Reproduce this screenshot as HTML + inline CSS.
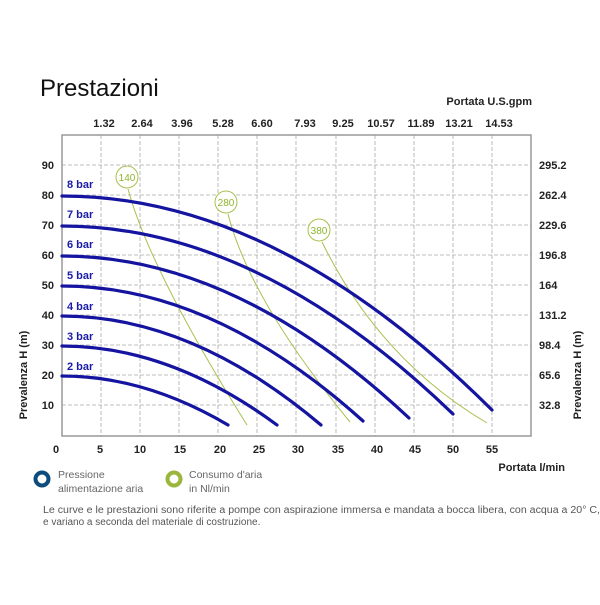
<!DOCTYPE html>
<html><head><meta charset="utf-8"><style>
html,body{margin:0;padding:0;background:#fff;}
svg text{font-family:"Liberation Sans",Arial,sans-serif;}
</style></head><body>
<svg width="600" height="600" viewBox="0 0 600 600" xmlns="http://www.w3.org/2000/svg">
<rect width="600" height="600" fill="#fff"/>
<text x="40" y="96" font-size="24" fill="#111">Prestazioni</text>
<text x="532" y="105" font-size="11" font-weight="bold" fill="#222" text-anchor="end">Portata U.S.gpm</text>
<g stroke="#aaa" stroke-width="0.8" stroke-dasharray="4,2">
<line x1="101" y1="135" x2="101" y2="436"/><line x1="140" y1="135" x2="140" y2="436"/><line x1="179" y1="135" x2="179" y2="436"/><line x1="218" y1="135" x2="218" y2="436"/><line x1="257" y1="135" x2="257" y2="436"/><line x1="296" y1="135" x2="296" y2="436"/><line x1="336" y1="135" x2="336" y2="436"/><line x1="375" y1="135" x2="375" y2="436"/><line x1="414" y1="135" x2="414" y2="436"/><line x1="453" y1="135" x2="453" y2="436"/><line x1="492" y1="135" x2="492" y2="436"/>
<line x1="62" y1="165" x2="531" y2="165"/><line x1="62" y1="195" x2="531" y2="195"/><line x1="62" y1="225" x2="531" y2="225"/><line x1="62" y1="255" x2="531" y2="255"/><line x1="62" y1="285" x2="531" y2="285"/><line x1="62" y1="315" x2="531" y2="315"/><line x1="62" y1="345" x2="531" y2="345"/><line x1="62" y1="375" x2="531" y2="375"/><line x1="62" y1="405" x2="531" y2="405"/>
</g>
<rect x="62" y="135" width="469" height="301" fill="none" stroke="#999" stroke-width="1.5"/>
<g font-size="11" font-weight="bold" fill="#222" text-anchor="middle">
<text x="104" y="127">1.32</text><text x="142" y="127">2.64</text><text x="182" y="127">3.96</text><text x="223" y="127">5.28</text><text x="262" y="127">6.60</text><text x="305" y="127">7.93</text><text x="343" y="127">9.25</text><text x="381" y="127">10.57</text><text x="421" y="127">11.89</text><text x="459" y="127">13.21</text><text x="499" y="127">14.53</text>
<text x="56" y="453">0</text><text x="100" y="453">5</text><text x="140" y="453">10</text><text x="180" y="453">15</text><text x="220" y="453">20</text><text x="259" y="453">25</text><text x="298" y="453">30</text><text x="338" y="453">35</text><text x="377" y="453">40</text><text x="415" y="453">45</text><text x="453" y="453">50</text><text x="492" y="453">55</text>
</g>
<g font-size="11" font-weight="bold" fill="#222" text-anchor="end">
<text x="54" y="169">90</text><text x="54" y="199">80</text><text x="54" y="229">70</text><text x="54" y="259">60</text><text x="54" y="289">50</text><text x="54" y="319">40</text><text x="54" y="349">30</text><text x="54" y="379">20</text><text x="54" y="409">10</text>
</g>
<g font-size="11" font-weight="bold" fill="#222">
<text x="539" y="169">295.2</text><text x="539" y="199">262.4</text><text x="539" y="229">229.6</text><text x="539" y="259">196.8</text><text x="539" y="289">164</text><text x="539" y="319">131.2</text><text x="539" y="349">98.4</text><text x="539" y="379">65.6</text><text x="539" y="409">32.8</text>
</g>
<text transform="translate(27,375) rotate(-90)" font-size="11" font-weight="bold" fill="#222" text-anchor="middle">Prevalenza H (m)</text>
<text transform="translate(581,375) rotate(-90)" font-size="11" font-weight="bold" fill="#222" text-anchor="middle">Prevalenza  H (m)</text>
<text x="565" y="471" font-size="11" font-weight="bold" fill="#222" text-anchor="end">Portata  l/min</text>
<g fill="none" stroke="#a8c050" stroke-width="1">
<path d="M128,189 Q150,270 247,425"/>
<path d="M228,214 Q250,300 350,422"/>
<path d="M322,242 Q380,360 487,423"/>
<circle cx="127" cy="177" r="11" fill="#fff"/>
<circle cx="226" cy="202" r="11" fill="#fff"/>
<circle cx="319" cy="230" r="11" fill="#fff"/>
</g>
<g font-size="10" fill="#8db52a" text-anchor="middle">
<text x="127" y="181">140</text><text x="226" y="206">280</text><text x="319" y="234">380</text>
</g>
<g fill="none" stroke="#1414a0" stroke-width="3.2" stroke-linecap="round">
<path d="M62,376 Q145,376 228,425"/>
<path d="M62,346 Q170,346 277,425"/>
<path d="M62,316 Q192,316 321,425"/>
<path d="M62,286 Q213,286 363,421"/>
<path d="M62,256 Q236,256 409,418"/>
<path d="M62,226 Q258,226 453,414"/>
<path d="M62,196 Q277,196 492,410"/>
</g>
<g font-size="11" font-weight="bold" fill="#1a1aa8">
<text x="67" y="188">8 bar</text><text x="67" y="218">7 bar</text><text x="67" y="248">6 bar</text><text x="67" y="279">5 bar</text><text x="67" y="310">4 bar</text><text x="67" y="340">3 bar</text><text x="67" y="370">2 bar</text>
</g>
<circle cx="42" cy="479" r="6.5" fill="none" stroke="#0e4c7e" stroke-width="4"/>
<circle cx="174" cy="479" r="6.5" fill="none" stroke="#9ab63c" stroke-width="4"/>
<g font-size="10.5" fill="#666">
<text x="58" y="478">Pressione</text><text x="58" y="492">alimentazione aria</text>
<text x="189" y="478">Consumo d'aria</text><text x="189" y="492">in Nl/min</text>
</g>
<g font-size="10" fill="#555">
<text x="43" y="513" textLength="557" lengthAdjust="spacingAndGlyphs">Le curve e le prestazioni sono riferite a pompe con aspirazione immersa e mandata a bocca libera, con acqua a 20° C,</text>
<text x="43" y="525">e variano a seconda del materiale di costruzione.</text>
</g>
</svg>
</body></html>
